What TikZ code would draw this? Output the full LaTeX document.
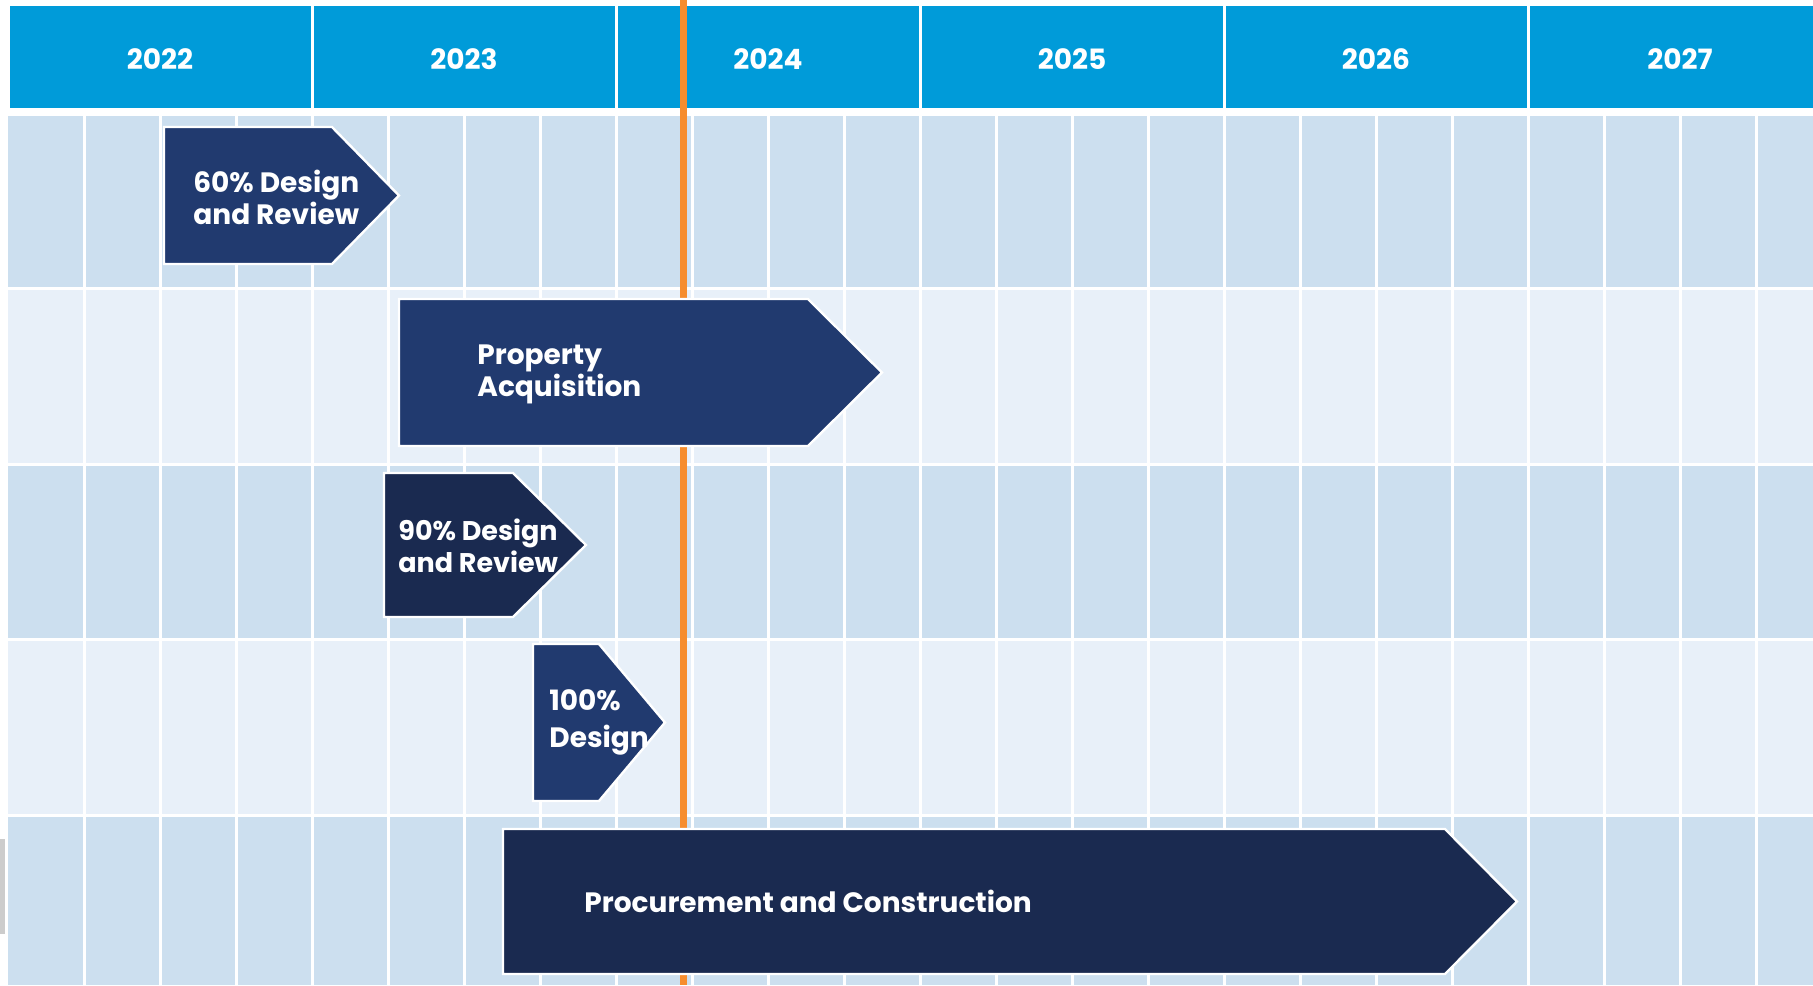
\documentclass[tikz,border=0pt]{standalone}
\usepackage{fontspec}
\setmainfont{Poppins}
\definecolor{hdrblue}{HTML}{009BD9}
\definecolor{rowdark}{HTML}{CCDFEF}
\definecolor{rowlight}{HTML}{E8F0F9}
\definecolor{barblue}{HTML}{213A6F}
\definecolor{barnavy}{HTML}{1A2A50}
\definecolor{nowline}{HTML}{F68D2E}
\tikzset{
  barshape/.style={draw=white, line width=1.2pt, line join=miter},
  bartext/.style={text=white, font=\bfseries\fontsize{14}{16}\selectfont, align=left, inner sep=0pt, anchor=west},
  yeartext/.style={text=white, font=\bfseries\fontsize{14}{16}\selectfont, inner sep=0pt},
  gridline/.style={white, line width=1.5pt}
}
% arrow bar: left, top, bottom, body end, tip, colour
\newcommand{\ganttbar}[6]{%
  \fill[#6] (#1,#2) -- (#4,#2) -- (#5,{(#2+#3)/2}) -- (#4,#3) -- (#1,#3) -- cycle;
  \draw[barshape] (#1,#2) -- (#4,#2) -- (#5,{(#2+#3)/2}) -- (#4,#3) -- (#1,#3) -- cycle;
}
\begin{document}
\begin{tikzpicture}[x=0.5pt,y=-0.5pt]
    \useasboundingbox (0,0) rectangle (1813,985);
    \fill[white] (0,0) rectangle (1813,985);
    % rows
    \foreach \top/\bot/\col in {116/288/rowdark, 288/464/rowlight, 464/639/rowdark, 639/815/rowlight, 815/985/rowdark}
        \fill[\col] (8,\top) rectangle (1813,\bot);
    \foreach \i in {1,...,23}
        \draw[gridline] ({8+76*\i},116) -- ({8+76*\i},985);
    \foreach \y in {288,464,639,815}
        \draw[gridline] (8,\y) -- (1813,\y);
    \fill[black!20] (0,839) rectangle (5,934);
    % years
    \foreach \yr [count=\i from 0] in {2022,2023,2024,2025,2026,2027} {
        \fill[hdrblue] ({8+304*\i+1.5},6) rectangle ({8+304*(\i+1)-1.5},108);
        \node[yeartext] (y\yr) at ({8+304*\i+152},59) {\yr};
    }
    % today
    \coordinate (nowtop) at (683.5,0);
    \coordinate (nowbot) at (683.5,985);
    \draw[nowline, line width=3.5pt] (nowtop) -- (nowbot);
    % bars
    \ganttbar{164}{127}{264}{332}{399}{barblue}
    \node[bartext] (design60) at (193,197) {60\% Design\\and Review};
    \ganttbar{399}{299}{446}{808}{882}{barblue}
    \node[bartext] (property) at (477,374) {Property\\Acquisition};
    \ganttbar{384}{473}{617}{513}{586}{barnavy}
    \node[bartext, font=\bfseries\fontsize{13.5}{16}\selectfont] (design90) at (398,546) {90\% Design\\and Review};
    \ganttbar{533}{644}{801}{599}{665}{barblue}
    \node[bartext] (design100) at (549,722) {100\%\\[2.5pt]Design};
    \ganttbar{503}{829}{974}{1445}{1517}{barnavy}
    \node[bartext] (procure) at (584,901) {Procurement and Construction};
\end{tikzpicture}
\end{document}
